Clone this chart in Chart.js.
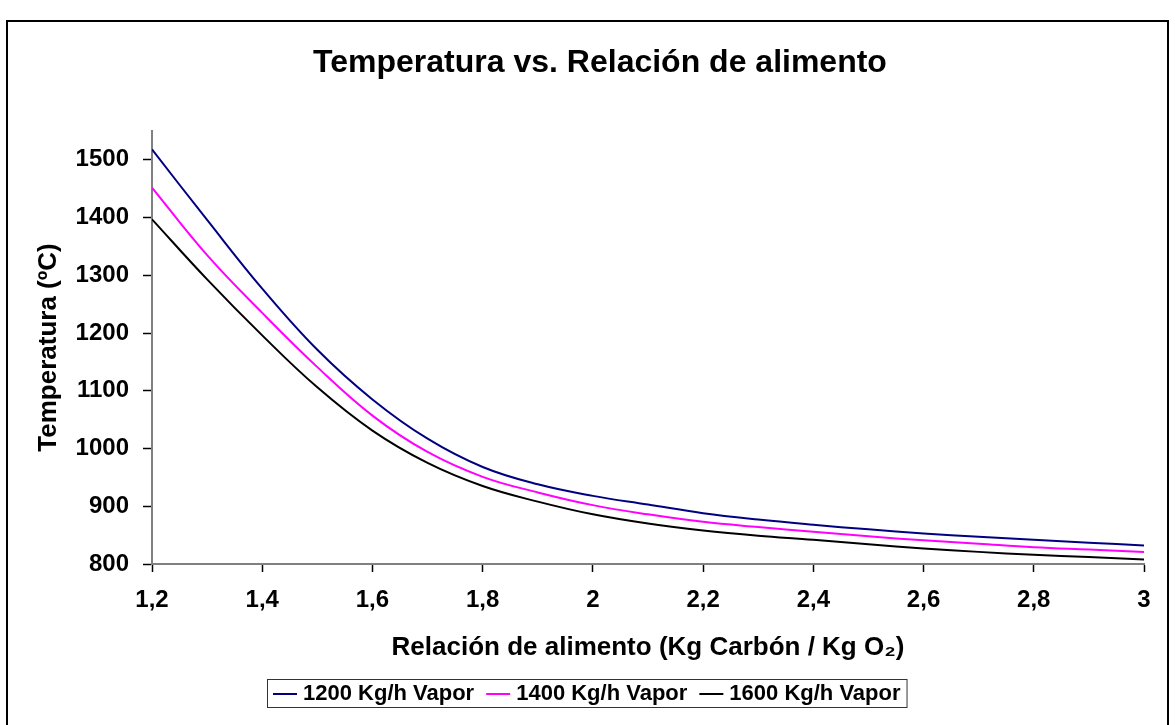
<!DOCTYPE html>
<html>
<head>
<meta charset="utf-8">
<script src="https://cdn.jsdelivr.net/npm/chart.js@4.4.1/dist/chart.umd.min.js"></script>
<style>
  html, body { margin: 0; padding: 0; background: #fff; }
  #wrap { width: 1175px; height: 725px; }
</style>
</head>
<body>
<div id="wrap"><canvas id="chart" width="1175" height="725"></canvas></div>
<script>
// values
const relacion = [1.2, 1.3, 1.4, 1.5, 1.6, 1.7, 1.8, 1.9, 2.0, 2.1, 2.2, 2.3, 2.4, 2.5, 2.6, 2.7, 2.8, 2.9, 3.0];
const vapor1200 = [1518, 1396, 1277, 1171, 1085, 1017, 968, 938, 918, 903, 888, 877, 868, 860, 853, 847, 842, 837, 832];
const vapor1400 = [1452, 1335, 1235, 1141, 1057, 994, 951, 924, 902, 886, 873, 864, 856, 848, 841, 835, 829, 825, 821];
const vapor1600 = [1397, 1293, 1196, 1106, 1031, 975, 935, 908, 886, 870, 858, 849, 842, 834, 827, 821, 816, 812, 808];
const seriesNames = ["1200 Kg/h Vapor", "1400 Kg/h Vapor", "1600 Kg/h Vapor"];
const xTicks = [1.2, 1.4, 1.6, 1.8, 2.0, 2.2, 2.4, 2.6, 2.8, 3.0];
const yTicks = [800, 900, 1000, 1100, 1200, 1300, 1400, 1500];
const chartTitle = "Temperatura vs. Relación de alimento";

const FONT = "'Liberation Sans', Arial, sans-serif";

function toPoints(ys) {
  return ys.map((y, i) => ({ x: relacion[i], y }));
}

function fmtComma(v) {
  return String(Math.round(v * 10) / 10).replace(".", ",");
}

const framePlugin = {
  id: "frame",
  beforeDraw(chart) {
    const ctx = chart.ctx;
    ctx.save();
    ctx.fillStyle = "#fff";
    ctx.fillRect(0, 0, chart.width, chart.height);
    ctx.strokeStyle = "#000";
    ctx.lineWidth = 2;
    ctx.strokeRect(7, 21, 1161, 730);
    // title sits centred on the whole frame, like the Excel original
    ctx.fillStyle = "#000";
    ctx.font = `bold 32px ${FONT}`;
    ctx.textAlign = "center";
    ctx.textBaseline = "middle";
    ctx.fillText(chartTitle, 600, 63);
    ctx.restore();
  },
};

// Excel style legend: one row in a thin box
const boxLegend = {
  id: "boxLegend",
  afterDraw(chart) {
    const ctx = chart.ctx;
    const sets = chart.data.datasets;
    ctx.save();
    ctx.font = `bold 22px ${FONT}`;
    const lineLen = 24, gap = 6, itemGap = 12, pad = 6;
    const widths = sets.map((d) => ctx.measureText(d.label).width);
    let total = pad * 2 + itemGap * (sets.length - 1);
    widths.forEach((w) => (total += lineLen + gap + w));
    const top = 679, h = 28;
    let x = Math.round(587 - total / 2);
    ctx.strokeStyle = "#333";
    ctx.lineWidth = 1;
    ctx.strokeRect(x + 0.5, top + 0.5, total, h);
    x += pad;
    const cy = top + h / 2 + 1;
    sets.forEach((d, i) => {
      ctx.strokeStyle = d.borderColor;
      ctx.lineWidth = 2;
      ctx.beginPath();
      ctx.moveTo(x, cy);
      ctx.lineTo(x + lineLen, cy);
      ctx.stroke();
      x += lineLen + gap;
      ctx.fillStyle = "#000";
      ctx.textBaseline = "middle";
      ctx.fillText(d.label, x, cy);
      x += widths[i] + itemGap;
    });
    ctx.restore();
  },
};

new Chart(document.getElementById("chart"), {
  type: "line",
  data: {
    datasets: [
      { label: seriesNames[0], data: toPoints(vapor1200), borderColor: "#000080" },
      { label: seriesNames[1], data: toPoints(vapor1400), borderColor: "#ff00ff" },
      { label: seriesNames[2], data: toPoints(vapor1600), borderColor: "#000000" },
    ],
  },
  options: {
    responsive: false,
    animation: false,
    devicePixelRatio: 1,
    layout: { padding: { top: 131, left: 0, right: 31, bottom: 62 } },
    elements: {
      line: { borderWidth: 2, tension: 0.4 },
      point: { radius: 0 },
    },
    plugins: {
      legend: { display: false },
      tooltip: { enabled: false },
      title: { display: false },
    },
    scales: {
      x: {
        type: "linear",
        min: 1.2,
        max: 3,
        afterBuildTicks: (s) => { s.ticks = xTicks.map((v) => ({ value: v })); },
        afterFit: (s) => { s.height = 99; },
        ticks: {
          color: "#000",
          padding: 14,
          maxRotation: 0,
          font: { family: FONT, size: 24, weight: "bold" },
          callback: (v) => fmtComma(v),
        },
        grid: { drawOnChartArea: false, tickLength: 8, tickColor: "#000", tickWidth: 1.5 },
        border: { color: "#808080", width: 2 },
        title: {
          display: true,
          text: "Relación de alimento (Kg Carbón / Kg O₂)",
          color: "#000",
          font: { family: FONT, size: 26, weight: "bold" },
          padding: { top: 0, bottom: 0 },
        },
      },
      y: {
        min: 800,
        max: 1550,
        afterBuildTicks: (s) => { s.ticks = yTicks.map((v) => ({ value: v })); },
        afterFit: (s) => { s.width = 152; },
        ticks: {
          color: "#000",
          padding: 14,
          font: { family: FONT, size: 24, weight: "bold" },
          callback: (v) => String(v),
        },
        grid: { drawOnChartArea: false, tickLength: 9, tickColor: "#000", tickWidth: 1.5 },
        border: { color: "#808080", width: 2 },
        title: {
          display: true,
          text: "Temperatura (ºC)",
          color: "#000",
          font: { family: FONT, size: 26, weight: "bold" },
          padding: { top: 33, bottom: 0 },
        },
      },
    },
  },
  plugins: [framePlugin, boxLegend],
});
</script>
</body>
</html>
